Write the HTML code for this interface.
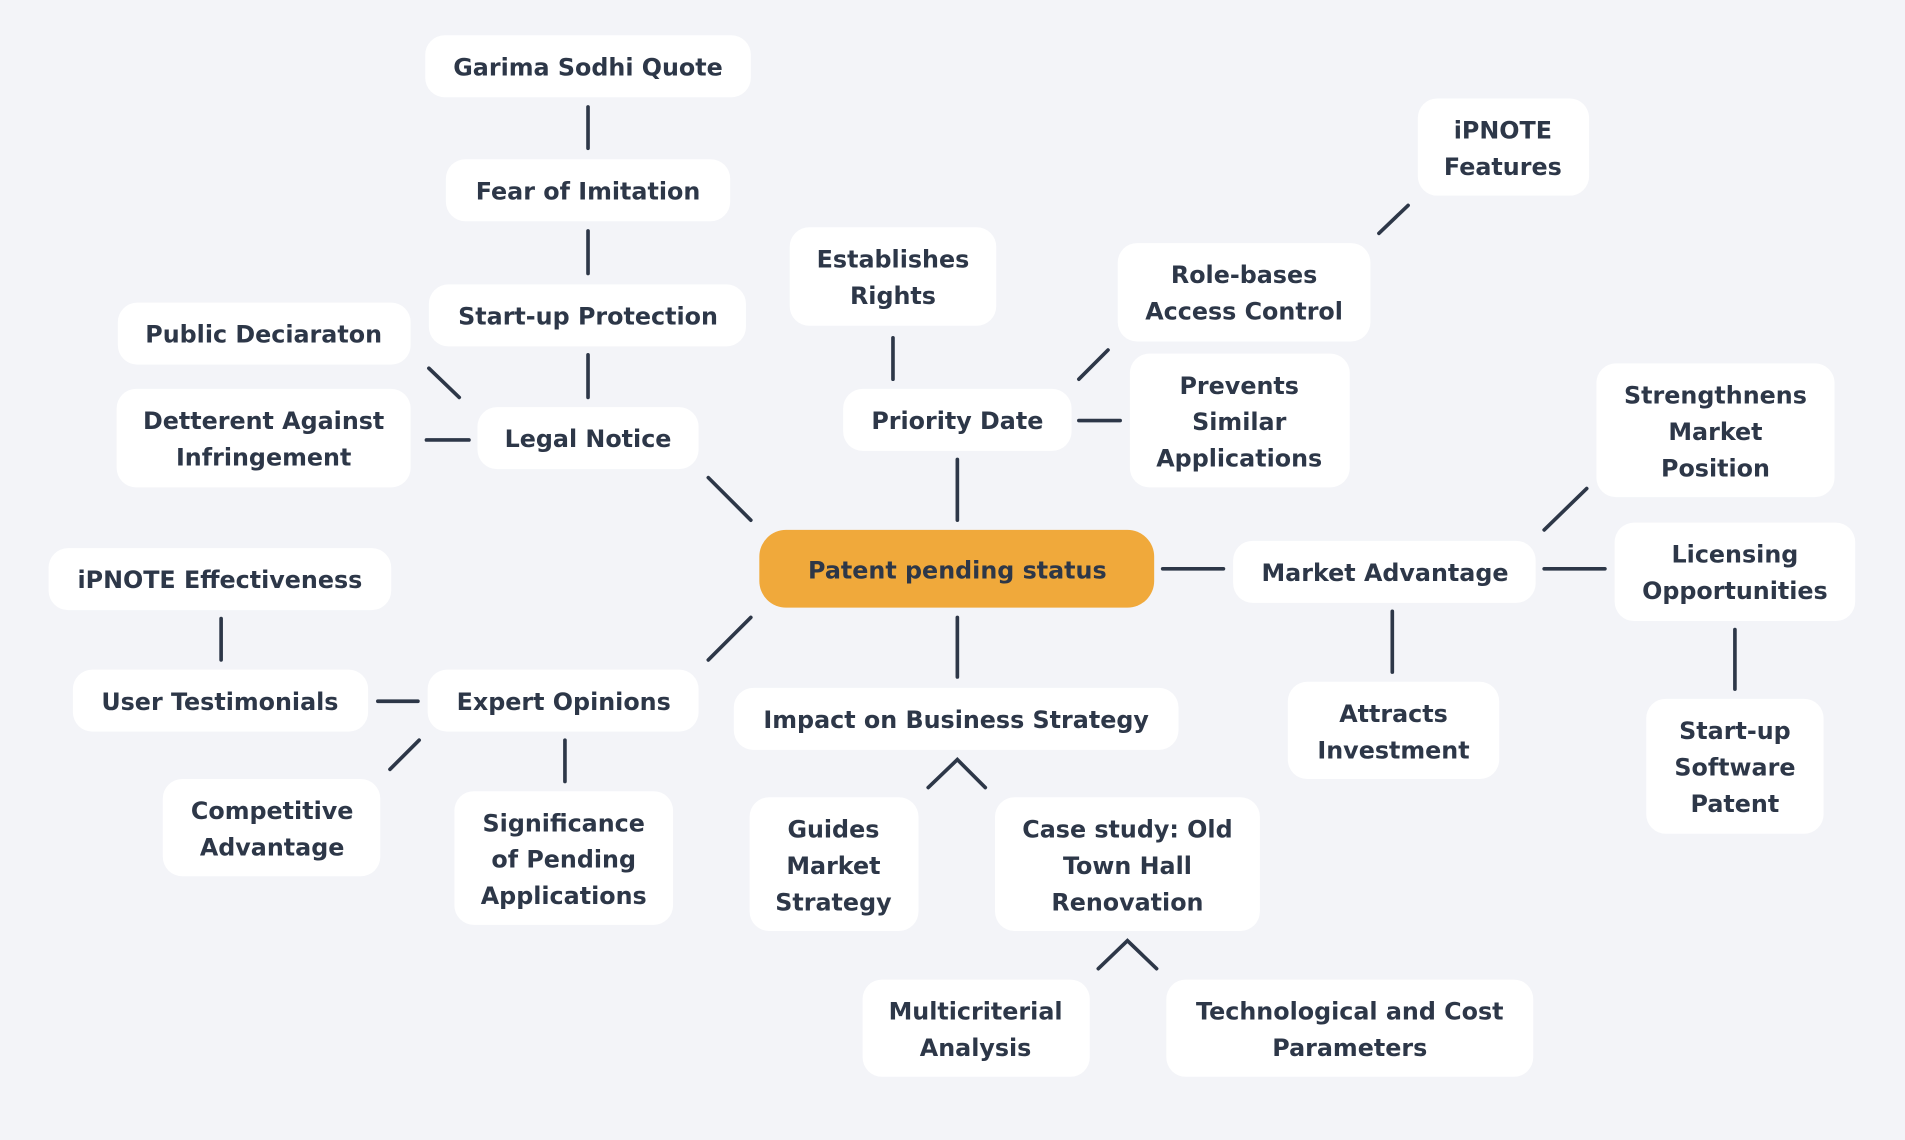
<!DOCTYPE html>
<html><head><meta charset="utf-8"><style>
html,body{margin:0;padding:0;background:#f3f4f8;}
svg{display:block}
text{font-family:"DejaVu Sans","Liberation Sans",sans-serif;font-weight:bold;font-size:19.6px;fill:#2d3748;text-anchor:middle;}
rect{fill:#fff}
line,polyline{stroke:#2d3748;stroke-width:3;stroke-linecap:round;fill:none}
</style></head><body>
<svg width="1905" height="1140" viewBox="0 0 1568 938" preserveAspectRatio="none">
<rect x="0" y="0" width="1568" height="938" style="fill:#f3f4f8"/>
<g>
<line x1="484" y1="88" x2="484" y2="122"/>
<line x1="484" y1="190" x2="484" y2="225"/>
<line x1="484" y1="292" x2="484" y2="327"/>
<line x1="353" y1="303" x2="378" y2="327"/>
<line x1="351" y1="362" x2="386" y2="362"/>
<line x1="583" y1="393" x2="618" y2="428"/>
<line x1="735" y1="278" x2="735" y2="312"/>
<line x1="788" y1="378" x2="788" y2="428"/>
<line x1="888" y1="346" x2="922" y2="346"/>
<line x1="888" y1="312" x2="912" y2="288"/>
<line x1="1135" y1="192" x2="1159" y2="169"/>
<line x1="957" y1="468" x2="1007" y2="468"/>
<line x1="1271" y1="468" x2="1321" y2="468"/>
<line x1="1271" y1="436" x2="1306" y2="402"/>
<line x1="1146" y1="503" x2="1146" y2="553"/>
<line x1="1428" y1="518" x2="1428" y2="567"/>
<line x1="583" y1="543" x2="618" y2="508"/>
<line x1="788" y1="508" x2="788" y2="557"/>
<line x1="182" y1="509" x2="182" y2="543"/>
<line x1="311" y1="577" x2="344" y2="577"/>
<line x1="321" y1="633" x2="345" y2="609"/>
<line x1="465" y1="609" x2="465" y2="643"/>
<polyline points="764,648 788,625 811,648"/>
<polyline points="904,797 928,774 952,797"/>
</g>
<rect x="350" y="29" width="268" height="51" rx="16"/>
<text x="484" y="62">Garima Sodhi Quote</text>
<rect x="367" y="131" width="234" height="51" rx="16"/>
<text x="484" y="164">Fear of Imitation</text>
<rect x="353" y="234" width="261" height="51" rx="16"/>
<text x="484" y="267">Start-up Protection</text>
<rect x="393" y="335" width="182" height="51" rx="16"/>
<text x="484" y="368">Legal Notice</text>
<rect x="97" y="249" width="241" height="51" rx="16"/>
<text x="217" y="282">Public Deciaraton</text>
<rect x="96" y="320" width="242" height="81" rx="16"/>
<text x="217" y="353">Detterent Against</text><text x="217" y="383">Infringement</text>
<rect x="650" y="187" width="170" height="81" rx="16"/>
<text x="735" y="220">Establishes</text><text x="735" y="250">Rights</text>
<rect x="694" y="320" width="188" height="51" rx="16"/>
<text x="788" y="353">Priority Date</text>
<rect x="920" y="200" width="208" height="81" rx="16"/>
<text x="1024" y="233">Role-bases</text><text x="1024" y="263">Access Control</text>
<rect x="1167" y="81" width="141" height="80" rx="16"/>
<text x="1237" y="114">iPNOTE</text><text x="1237" y="144">Features</text>
<rect x="930" y="291" width="181" height="110" rx="16"/>
<text x="1020" y="324">Prevents</text><text x="1020" y="354">Similar</text><text x="1020" y="384">Applications</text>
<rect x="625" y="436" width="325" height="64" rx="22" style="fill:#f0a93b"/>
<text x="788" y="476">Patent pending status</text>
<rect x="1015" y="445" width="249" height="51" rx="16"/>
<text x="1140" y="478">Market Advantage</text>
<rect x="1314" y="299" width="196" height="110" rx="16"/>
<text x="1412" y="332">Strengthnens</text><text x="1412" y="362">Market</text><text x="1412" y="392">Position</text>
<rect x="1329" y="430" width="198" height="81" rx="16"/>
<text x="1428" y="463">Licensing</text><text x="1428" y="493">Opportunities</text>
<rect x="1060" y="561" width="174" height="80" rx="16"/>
<text x="1147" y="594">Attracts</text><text x="1147" y="624">Investment</text>
<rect x="1355" y="575" width="146" height="111" rx="16"/>
<text x="1428" y="608">Start-up</text><text x="1428" y="638">Software</text><text x="1428" y="668">Patent</text>
<rect x="40" y="451" width="282" height="51" rx="16"/>
<text x="181" y="484">iPNOTE Effectiveness</text>
<rect x="60" y="551" width="243" height="51" rx="16"/>
<text x="181" y="584">User Testimonials</text>
<rect x="352" y="551" width="223" height="51" rx="16"/>
<text x="464" y="584">Expert Opinions</text>
<rect x="134" y="641" width="179" height="80" rx="16"/>
<text x="224" y="674">Competitive</text><text x="224" y="704">Advantage</text>
<rect x="374" y="651" width="180" height="110" rx="16"/>
<text x="464" y="684">Significance</text><text x="464" y="714">of Pending</text><text x="464" y="744">Applications</text>
<rect x="604" y="566" width="366" height="51" rx="16"/>
<text x="787" y="599">Impact on Business Strategy</text>
<rect x="617" y="656" width="139" height="110" rx="16"/>
<text x="686" y="689">Guides</text><text x="686" y="719">Market</text><text x="686" y="749">Strategy</text>
<rect x="819" y="656" width="218" height="110" rx="16"/>
<text x="928" y="689">Case study: Old</text><text x="928" y="719">Town Hall</text><text x="928" y="749">Renovation</text>
<rect x="710" y="806" width="187" height="80" rx="16"/>
<text x="803" y="839">Multicriterial</text><text x="803" y="869">Analysis</text>
<rect x="960" y="806" width="302" height="80" rx="16"/>
<text x="1111" y="839">Technological and Cost</text><text x="1111" y="869">Parameters</text>
</svg>
</body></html>
